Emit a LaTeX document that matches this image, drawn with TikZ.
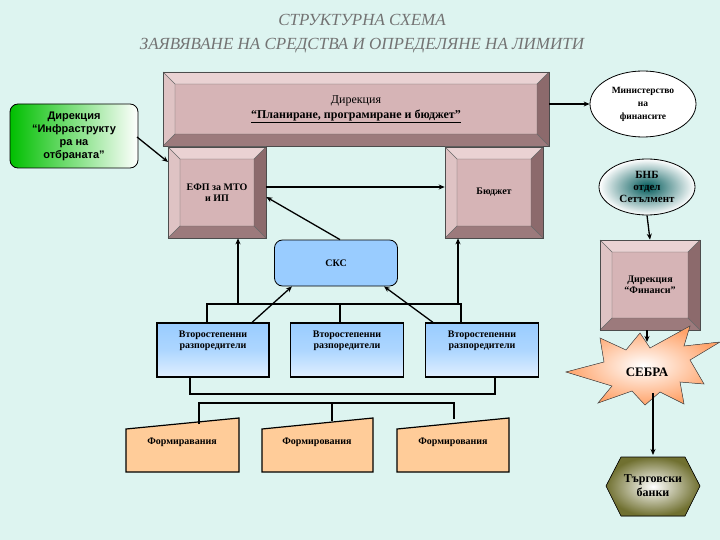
\documentclass[tikz,border=0pt]{standalone}
\usepackage{fontspec}
\setmainfont{Liberation Serif}
\newfontfamily\sansf{Liberation Sans}
\usetikzlibrary{arrows.meta,shapes.geometric}
\definecolor{bg}{HTML}{DDF4F0}
\definecolor{bvface}{HTML}{D6B4B6}
\definecolor{bvtop}{HTML}{EAD2D3}
\definecolor{bvleft}{HTML}{DFC3C4}
\definecolor{bvbot}{HTML}{9C7A7C}
\definecolor{bvright}{HTML}{8C6A6C}
\definecolor{blu}{HTML}{99CCFF}
\definecolor{orng}{HTML}{FFCC99}
\definecolor{olive}{HTML}{707030}
\tikzset{
  conn/.style={line width=1.3pt},
  arr/.style={line width=1.3pt,-{Stealth[length=6pt,width=5pt]}},
  lbl/.style={font=\bfseries\fontsize{10}{11}\selectfont,align=center,inner sep=0pt},
  vbox/.style={draw,line width=1.2pt,top color=blu,bottom color=blu!30!white,middle color=white!20!blu,lbl,inner sep=0pt},
  form/.style={draw,line width=1.2pt,fill=orng},
}
\newcommand\bevbox[7]{%
 \fill[bvtop] (#2,#3) -- (#4,#3) -- ({#4-#7},{#3+#7}) -- ({#2+#7},{#3+#7}) -- cycle;
 \fill[bvleft] (#2,#3) -- ({#2+#7},{#3+#7}) -- ({#2+#7},{#5-#7}) -- (#2,#5) -- cycle;
 \fill[bvbot] (#2,#5) -- ({#2+#7},{#5-#7}) -- ({#4-#7},{#5-#7}) -- (#4,#5) -- cycle;
 \fill[bvright] (#4,#3) -- (#4,#5) -- ({#4-#7},{#5-#7}) -- ({#4-#7},{#3+#7}) -- cycle;
 \fill[bvface] ({#2+#7},{#3+#7}) rectangle ({#4-#7},{#5-#7});
 \draw[black!60,line width=0.4pt] ({#2+#7},{#3+#7}) rectangle ({#4-#7},{#5-#7})
   (#2,#3)--({#2+#7},{#3+#7}) (#4,#3)--({#4-#7},{#3+#7}) (#2,#5)--({#2+#7},{#5-#7}) (#4,#5)--({#4-#7},{#5-#7});
 \node[draw=black!70,line width=0.6pt,minimum width={(#4-#2)*1pt},minimum height={(#5-#3)*1pt},lbl] (#1) at ({(#2+#4)/2},{(#3+#5)/2}) {#6};
}
\begin{document}
\begin{tikzpicture}[x=1pt,y=-1pt]
\fill[bg] (0,0) rectangle (720,540);
\useasboundingbox (0,0) rectangle (720,540);
\node[font=\itshape\fontsize{17}{18}\selectfont,text=black!55] (t1) at (362,20) {СТРУКТУРНА СХЕМА};
\node[font=\itshape\fontsize{17}{18}\selectfont,text=black!55] (t2) at (362,46) {ЗАЯВЯВАНЕ НА СРЕДСТВА И ОПРЕДЕЛЯНЕ НА ЛИМИТИ};
% boxes
\bevbox{plan}{163}{72}{549}{146}{{\fontsize{12}{14}\selectfont\mdseries Дирекция}\\[3pt]{\fontsize{12}{14}\selectfont\underline{“Планиране, програмиране и бюджет”}}}{12}
\bevbox{efp}{168}{147}{266}{238}{ЕФП за МТО\\ и ИП}{12}
\bevbox{bud}{445}{147}{543}{238}{Бюджет}{12}
\bevbox{fin}{600}{240}{700}{330}{Дирекция\\“Финанси”}{12}
\node[draw,line width=0.8pt,rounded corners=8pt,left color=green!75!black,right color=white,minimum width=128pt,minimum height=64pt,font=\sansf\bfseries\fontsize{11}{13}\selectfont,align=center] (infra) at (74,136) {Дирекция\\“Инфраструкту\\ра на\\отбраната”};
\node[draw,line width=0.8pt,ellipse,fill=white,minimum width=106pt,minimum height=66pt,lbl,font=\bfseries\fontsize{9.5}{13}\selectfont] (mf) at (643,104) {Министерство\\на\\финансите};
\node[draw,line width=0.8pt,ellipse,inner color=teal!70!black,outer color=white,minimum width=96pt,minimum height=56pt,lbl,font=\bfseries\fontsize{11}{12}\selectfont] (bnb) at (647,187) {БНБ\\отдел\\Сетълмент};
\node[draw,line width=0.8pt,rounded corners=8pt,fill=blu,minimum width=123pt,minimum height=46pt,lbl] (sks) at (336,263) {СКС};
\node[vbox,minimum width=112pt,minimum height=54pt,text depth=20pt] (v1) at (213,350) {Второстепенни\\разпоредители};
\node[vbox,minimum width=113pt,minimum height=54pt,text depth=20pt] (v2) at (347,350) {Второстепенни\\разпоредители};
\node[vbox,minimum width=113pt,minimum height=54pt,text depth=20pt] (v3) at (482,350) {Второстепенни\\разпоредители};
% forms
\draw[form] (126,429) -- (239,418) -- (239,472) -- (126,472) -- cycle;
\draw[form] (262,429) -- (373,418) -- (373,472) -- (262,472) -- cycle;
\draw[form] (397,429) -- (509,418) -- (509,472) -- (397,472) -- cycle;
\node[lbl] (f1) at (182,442) {Формиравания};
\node[lbl] (f2) at (317,442) {Формирования};
\node[lbl] (f3) at (453,442) {Формирования};
\coordinate (f1t) at (199,424); \coordinate (f2t) at (332,421); \coordinate (f3t) at (454,419);
% sebra
\fill[inner color=white,outer color=orange!45!pink,draw=black!70,line width=0.5pt]
 (720,342) -- (690,360) -- (704,384) -- (680,382) -- (684,404) -- (660,392) -- (645,405) -- (632,391) -- (598,403) -- (612,386) -- (566,372) -- (604,362) -- (600,338) -- (626,350) -- (640,333) -- (650,348) -- (690,326) -- (684,346) -- cycle;
\node[lbl,font=\bfseries\fontsize{13}{14}\selectfont] (sebra) at (647,372) {СЕБРА};
\coordinate (sebB) at (653,393);
% hexagon
\fill[inner color=white,outer color=olive,draw=black,line width=0.6pt] (606,486) -- (621,457) -- (685,457) -- (700,486) -- (685,516) -- (621,516) -- cycle;
\node[lbl,font=\bfseries\fontsize{12}{14}\selectfont] (tb) at (653,486) {Търговски\\банки};
\coordinate (tbtop) at (653,455);
\coordinate (sebT) at (647,342);
\coordinate (ia) at (137,137);
\coordinate (ib) at (168,162);
% connectors
\draw[arr] (plan.east |- mf.west) -- (mf.west);
\draw[arr] (ia) -- (ib);
\draw[arr] (efp.east |- 0,187) -- (bud.west |- 0,187);
\draw[arr] (bnb.south) -- (fin.north);
\draw[arr] (fin.south -| sebT) -- (sebT);
\draw[arr] (sebB) -- (tbtop);
\draw[arr] (sks.north -| 340,0) -- (efp.east |- 0,197);
\draw[conn] (v1.north -| 207,0) -- (207,304) -- (461,304) -- (v3.north -| 461,0);
\draw[conn] (340,304) -- (v2.north -| 340,0);
\draw[arr] (238,304) -- (efp.south -| 238,0);
\draw[arr] (458,304) -- (bud.south -| 458,0);
\draw[arr] (v1.north -| 252,0) -- (sks.south -| 292,0);
\draw[arr] (v3.north -| 433,0) -- (sks.south -| 384,0);
\draw[conn] (v1.south -| 190,0) -- (190,394) -- (495,394) -- (v3.south -| 495,0);
\draw[conn] (f1t) -- (199,403) -- (454,403) -- (f3t);
\draw[conn] (332,403) -- (f2t);
\end{tikzpicture}
\end{document}
